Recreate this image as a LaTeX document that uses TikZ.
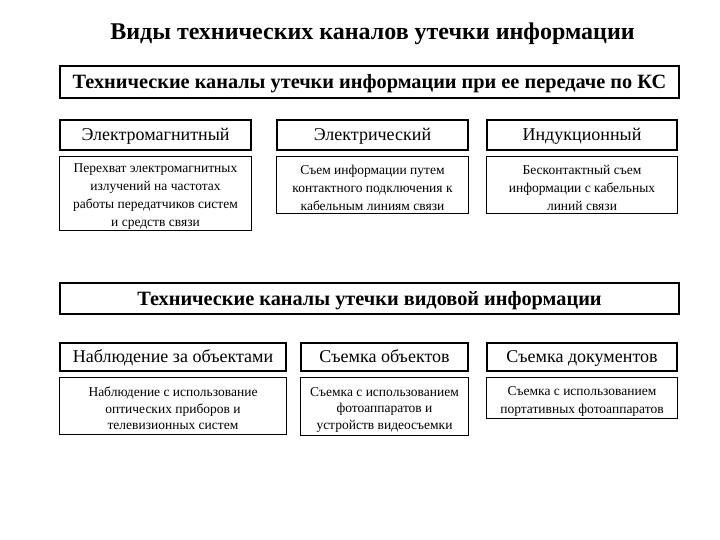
\documentclass[tikz,border=0pt]{standalone}
\usepackage{fontspec}
\setmainfont{Liberation Serif}
\newcommand{\dstrut}{\rule{0pt}{15pt}}
\begin{document}
\begin{tikzpicture}[x=1pt,y=-1pt,
  titlestyle/.style={inner sep=0pt, anchor=base, font=\bfseries\fontsize{24}{28}\selectfont},
  bigbox/.style={draw, line width=2.2pt, inner sep=0pt, minimum width=619pt, text height=13pt, text depth=0pt, font=\bfseries\fontsize{20.3}{24}\selectfont},
  headbox/.style={draw, line width=1.8pt, inner sep=0pt, minimum height=30pt, text height=11pt, text depth=0pt, font=\fontsize{18}{21}\selectfont},
  descbox/.style={draw, line width=0.8pt, inner sep=0pt, align=center, font=\fontsize{13.5}{18}\selectfont}]
\useasboundingbox (0,0) rectangle (720,540);
\node[titlestyle] (title) at (372.5,40) {Виды технических каналов утечки информации};
\node[bigbox, minimum height=32pt] (k1) at (369.5,82) {Технические каналы утечки информации при ее передаче по КС};
\node[headbox, minimum width=191pt] (h1) at (155.5,135) {Электромагнитный};
\node[headbox, minimum width=191pt] (h2) at (372.5,135) {Электрический};
\node[headbox, minimum width=190pt] (h3) at (582,135) {Индукционный};
\node[descbox, minimum width=192pt, minimum height=74pt] (d1) at (155.5,193.5) {\dstrut Перехват электромагнитных\\излучений на частотах\\работы передатчиков систем\\и средств связи};
\node[descbox, minimum width=192pt, minimum height=57pt] (d2) at (372.5,185) {\dstrut Съем информации путем\\контактного подключения к\\кабельным линиям связи};
\node[descbox, minimum width=191pt, minimum height=57pt] (d3) at (582,185) {\dstrut Бесконтактный съем\\информации с кабельных\\линий связи};
\node[bigbox, minimum height=31pt] (k2) at (369.5,298.5) {Технические каналы утечки видовой информации};
\node[headbox, minimum width=226pt, minimum height=28pt] (g1) at (173,357) {Наблюдение за объектами};
\node[headbox, minimum width=167pt, minimum height=28pt] (g2) at (384.5,357) {Съемка объектов};
\node[headbox, minimum width=190pt, minimum height=28pt] (g3) at (582,357) {Съемка документов};
\node[descbox, minimum width=227pt, minimum height=57pt, font=\fontsize{13.5}{16.5}\selectfont] (e1) at (173,406) {\dstrut Наблюдение с использование\\оптических приборов и\\телевизионных систем};
\node[descbox, minimum width=168pt, minimum height=58pt, font=\fontsize{13.5}{16.5}\selectfont] (e2) at (384.5,406.5) {\dstrut Съемка с использованием\\фотоаппаратов и\\устройств видеосъемки};
\node[descbox, minimum width=191pt, minimum height=41pt] (e3) at (582,398) {\dstrut Съемка с использованием\\портативных фотоаппаратов};
\end{tikzpicture}
\end{document}
